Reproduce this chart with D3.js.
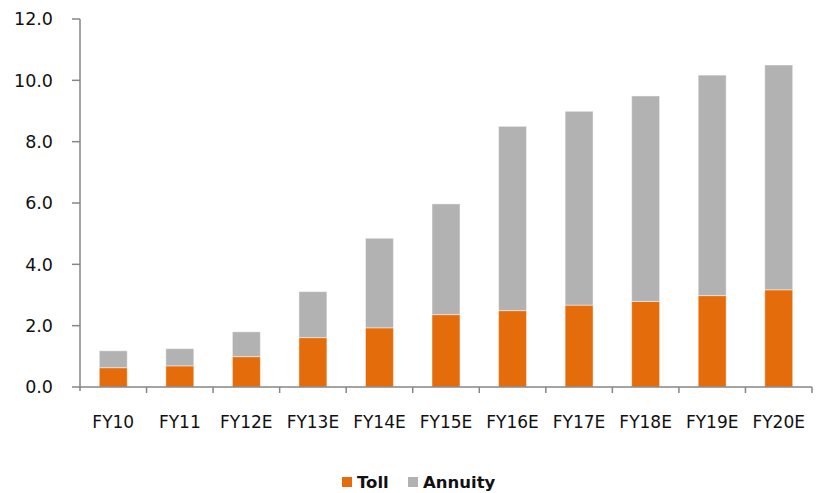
<!DOCTYPE html>
<html>
<head>
<meta charset="utf-8">
<script src="https://cdn.jsdelivr.net/npm/d3@7"></script>
<style>
  html, body { margin: 0; padding: 0; background: #fff; }
  svg { display: block; font-family: "DejaVu Sans", Verdana, sans-serif; }
</style>
</head>
<body>
<svg id="chart" width="820" height="493"></svg>
<script>
// Fiscal years shown on the category axis
const categories = ["FY10", "FY11", "FY12E", "FY13E", "FY14E", "FY15E", "FY16E", "FY17E", "FY18E", "FY19E", "FY20E"];
// Stacked segments per year
const tollValues    = [0.63, 0.69, 0.99, 1.61, 1.93, 2.36, 2.49, 2.67, 2.79, 2.98, 3.17];
const annuityValues = [0.55, 0.56, 0.81, 1.50, 2.92, 3.61, 6.01, 6.32, 6.70, 7.19, 7.33];
const seriesNames = ["Toll", "Annuity"];
const yTicks = [0, 2, 4, 6, 8, 10, 12];

const colors = { Toll: "#E46C0A", Annuity: "#B2B2B2" };
const axisColor = "#868686";

const svg = d3.select("#chart");
const plot = { left: 80, right: 812, top: 19, bottom: 387 };

const x = d3.scaleBand()
  .domain(categories)
  .range([plot.left, plot.right])
  .paddingInner(0.58)
  .paddingOuter(0.29);

const y = d3.scaleLinear().domain([0, 12]).range([plot.bottom, plot.top]);

const rows = categories.map((c, i) => ({ cat: c, Toll: tollValues[i], Annuity: annuityValues[i] }));
const stacked = d3.stack().keys(seriesNames)(rows);

// Bars
svg.append("g").selectAll("g")
  .data(stacked)
  .join("g")
  .attr("fill", d => colors[d.key])
  .selectAll("rect")
  .data(d => d)
  .join("rect")
  .attr("x", d => x(d.data.cat))
  .attr("y", d => y(d[1]))
  .attr("width", x.bandwidth())
  .attr("height", d => y(d[0]) - y(d[1]))
  .attr("stroke", "rgba(255,255,255,0.45)")
  .attr("stroke-width", 1);

// Y axis
const yAxis = svg.append("g");
yAxis.append("line")
  .attr("x1", plot.left).attr("x2", plot.left)
  .attr("y1", plot.top).attr("y2", plot.bottom + 4)
  .attr("stroke", axisColor).attr("stroke-width", 1.5);
yAxis.selectAll("line.tick")
  .data(yTicks)
  .join("line")
  .attr("class", "tick")
  .attr("x1", plot.left - 8).attr("x2", plot.left)
  .attr("y1", d => y(d)).attr("y2", d => y(d))
  .attr("stroke", axisColor).attr("stroke-width", 1.5);
yAxis.selectAll("text")
  .data(yTicks)
  .join("text")
  .attr("x", 53)
  .attr("y", d => y(d))
  .attr("dy", "0.36em")
  .attr("text-anchor", "end")
  .attr("font-size", 17.5)
  .attr("fill", "#111")
  .text(d => d.toFixed(1));

// X axis
const xAxis = svg.append("g");
xAxis.append("line")
  .attr("x1", plot.left).attr("x2", plot.right)
  .attr("y1", plot.bottom).attr("y2", plot.bottom)
  .attr("stroke", axisColor).attr("stroke-width", 1.5);
const step = x.step();
const bounds = d3.range(categories.length + 1).map(i => plot.left + i * step);
xAxis.selectAll("line.tick")
  .data(bounds.slice(1))
  .join("line")
  .attr("class", "tick")
  .attr("x1", d => d).attr("x2", d => d)
  .attr("y1", plot.bottom).attr("y2", plot.bottom + 6)
  .attr("stroke", axisColor).attr("stroke-width", 1.5);
xAxis.selectAll("text")
  .data(categories)
  .join("text")
  .attr("x", d => x(d) + x.bandwidth() / 2)
  .attr("y", 428)
  .attr("text-anchor", "middle")
  .attr("font-size", 17)
  .attr("fill", "#111")
  .text(d => d);

// Legend
const legendItems = [
  { name: "Toll", sx: 342, tx: 357 },
  { name: "Annuity", sx: 408, tx: 423 }
];
const legend = svg.append("g");
legend.selectAll("rect")
  .data(legendItems)
  .join("rect")
  .attr("x", d => d.sx).attr("y", 477)
  .attr("width", 10).attr("height", 10)
  .attr("fill", d => colors[d.name]);
legend.selectAll("text")
  .data(legendItems)
  .join("text")
  .attr("x", d => d.tx).attr("y", 488)
  .attr("font-size", 16.5)
  .attr("font-weight", "bold")
  .attr("fill", "#111")
  .text(d => d.name);
</script>
</body>
</html>
